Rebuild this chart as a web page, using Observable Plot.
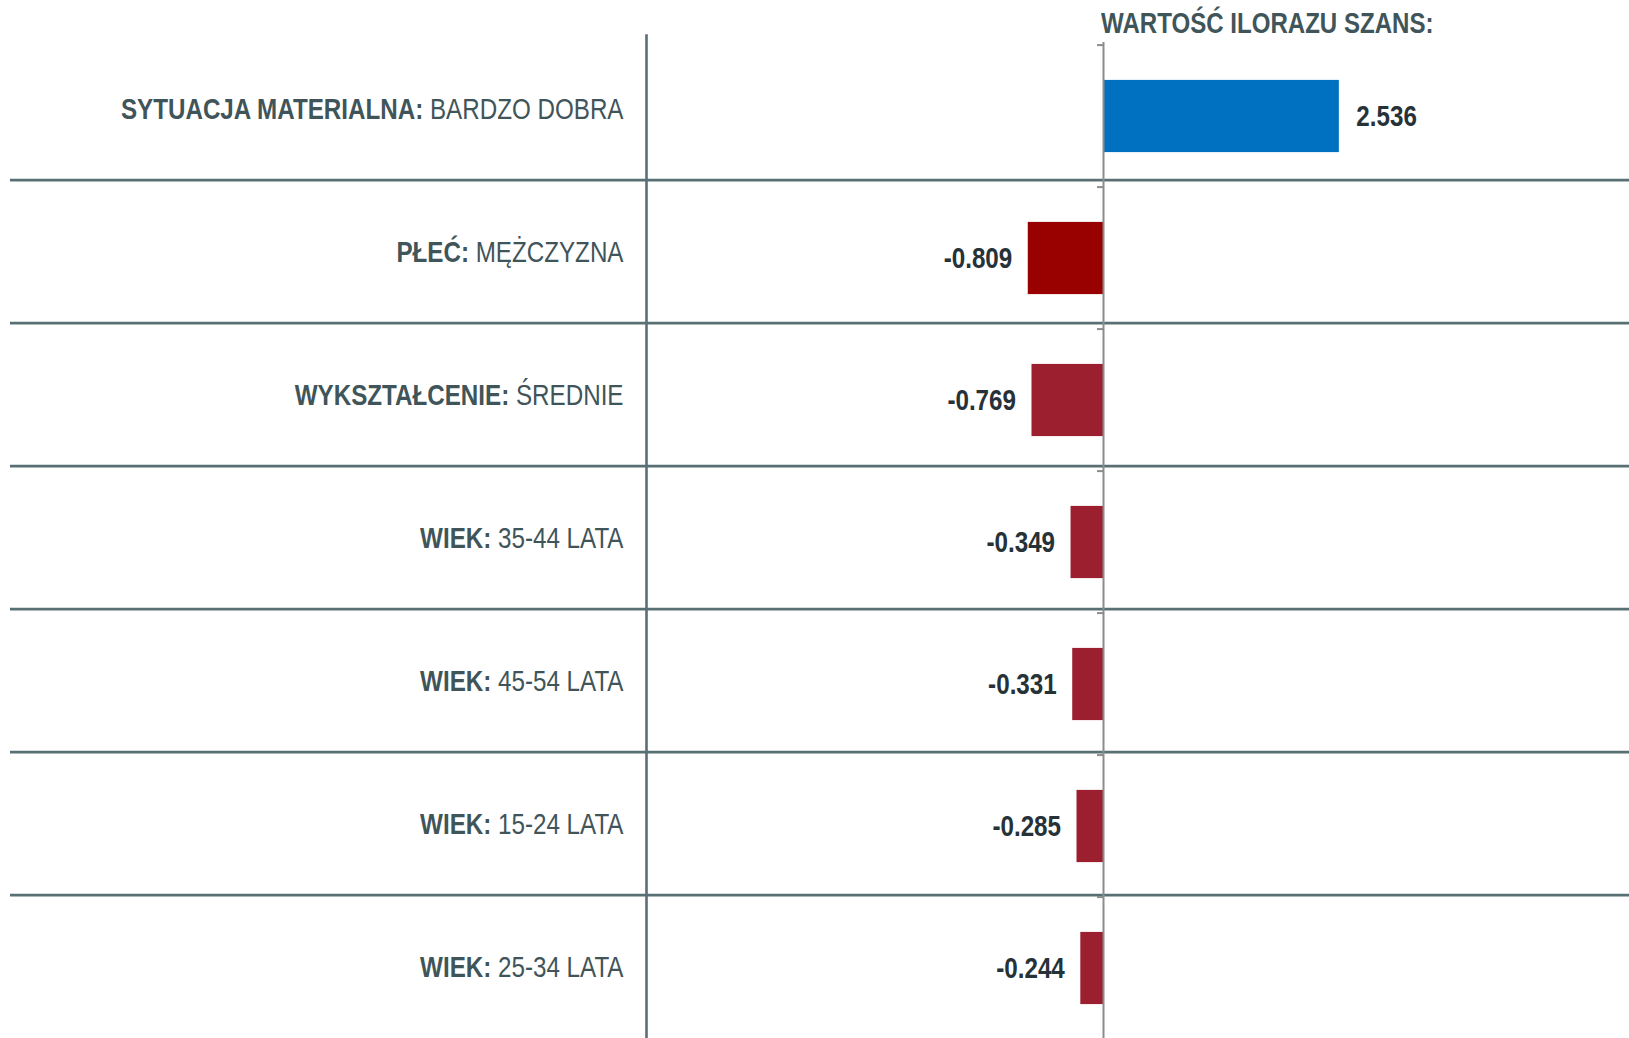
<!DOCTYPE html>
<html>
<head>
<meta charset="utf-8">
<script src="https://cdn.jsdelivr.net/npm/d3@7"></script>
<script src="https://cdn.jsdelivr.net/npm/@observablehq/plot@0.6"></script>
<style>
  html, body { margin: 0; padding: 0; background: #fff; }
  #wrap { position: relative; width: 1629px; height: 1038px; overflow: hidden; }
  #title { position: absolute; left: 1101px; top: 7px; font-family: "Liberation Sans", Arial, sans-serif; font-weight: bold; font-size: 29px; color: #3f5559; white-space: nowrap; transform: scaleX(0.83); transform-origin: 0 0; }
  .layer { position: absolute; left: 0; top: 0; }
</style>
</head>
<body>
<div id="wrap">
  <div id="grid" class="layer"></div>
  <div id="bars" class="layer"></div>
  <div id="title">WARTOŚĆ ILORAZU SZANS:</div>
</div>
<script>
const groups = ["SYTUACJA MATERIALNA", "PŁEĆ", "WYKSZTAŁCENIE", "WIEK", "WIEK", "WIEK", "WIEK"];
const levels = ["BARDZO DOBRA", "MĘŻCZYZNA", "ŚREDNIE", "35-44 LATA", "45-54 LATA", "15-24 LATA", "25-34 LATA"];
const values = [2.536, -0.809, -0.769, -0.349, -0.331, -0.285, -0.244];
const barColors = ["#0070C0", "#990000", "#9B1F2F", "#9B1F2F", "#9B1F2F", "#9B1F2F", "#9B1F2F"];

const rows = groups.map((g, i) => ({
  key: g + ": " + levels[i],
  group: g,
  level: levels[i],
  value: values[i],
  color: barColors[i]
}));
const keys = rows.map(d => d.key);

const font = `"Liberation Sans", Arial, sans-serif`;
const common = {
  width: 1629, height: 1038,
  marginTop: 35, marginLeft: 646, marginRight: 0, marginBottom: 0,
  style: { fontFamily: font, background: "transparent", overflow: "visible" }
};

// Table layer: row labels, row separators, column divider
const gridTop = 34.4, gridBand = 143.8;
const gridPlot = Plot.plot({
  ...common,
  x: { domain: [0, 1], axis: null },
  y: { type: "band", domain: keys, range: [gridTop, gridTop + gridBand * keys.length], padding: 0, axis: null },
  marks: [
    Plot.ruleY(keys.slice(1), { dy: -gridBand / 2, stroke: "#587074", strokeWidth: 2.6, insetLeft: -636 }),
    Plot.frame({ anchor: "left", stroke: "#587074", strokeWidth: 2.6 }),
    Plot.text(rows, {
      y: "key", text: "key", frameAnchor: "left", textAnchor: "end",
      dx: -23, dy: 1, fontSize: 29.5, fill: "#3f5559", className: "catlabel"
    })
  ]
});

// Chart layer: bars, value axis, value labels
const barTop = 41.9, barBand = 142.8;
const barPlot = Plot.plot({
  ...common,
  x: { domain: [-1, 3], range: [1103 - 93, 1103 + 3 * 93], axis: null },
  y: { type: "band", domain: keys, range: [barTop, barTop + barBand * keys.length], padding: 0, axis: null },
  marks: [
    Plot.barX(rows, { x: "value", y: "key", fill: "color", insetTop: 34.9, insetBottom: 34.9 }),
    Plot.ruleX([0], { stroke: "#8c8c8c", strokeWidth: 2, insetTop: 7 }),
    Plot.ruleY(keys, { x1: 0, x2: 0, insetLeft: -6, dy: -barBand / 2, stroke: "#8c8c8c", strokeWidth: 2 }),
    Plot.text(rows.filter(d => d.value >= 0), {
      x: "value", y: "key", text: d => d.value.toFixed(3),
      textAnchor: "start", dx: 17, dy: 0, fontSize: 29.5, fontWeight: "bold", fill: "#263238"
    }),
    Plot.text(rows.filter(d => d.value < 0), {
      x: "value", y: "key", text: d => d.value.toFixed(3),
      textAnchor: "end", dx: -16, dy: 0, fontSize: 29.5, fontWeight: "bold", fill: "#263238"
    })
  ]
});

// split label text into bold group + regular level
d3.select(gridPlot).selectAll(".catlabel text").each(function () {
  const t = d3.select(this);
  const full = t.text();
  const idx = full.indexOf(": ");
  const g = full.slice(0, idx + 1);
  const l = full.slice(idx + 2);
  t.text(null);
  t.append("tspan").attr("font-weight", "bold").text(g);
  t.append("tspan").text(" " + l);
});

document.getElementById("grid").appendChild(gridPlot);
document.getElementById("bars").appendChild(barPlot);

// narrow the type (Arial Narrow is about 82% of Arial's width)
[gridPlot, barPlot].forEach(svg => {
  d3.select(svg).selectAll("text").each(function () {
    const len = this.getComputedTextLength();
    if (len > 0) {
      this.setAttribute("textLength", (len * 0.82).toFixed(1));
      this.setAttribute("lengthAdjust", "spacingAndGlyphs");
    }
  });
});
</script>
</body>
</html>
